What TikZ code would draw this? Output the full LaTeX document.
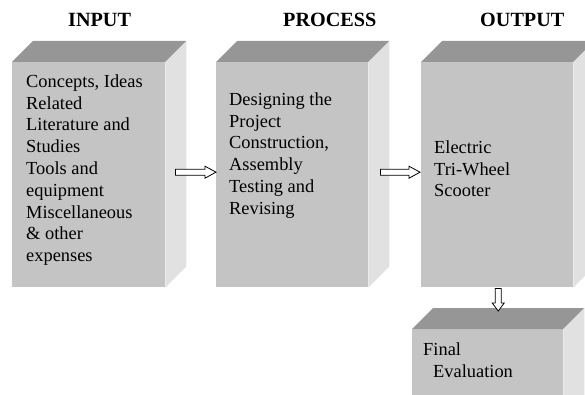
\documentclass[tikz,border=0pt]{standalone}
\usepackage{fontspec}
\setmainfont{Liberation Serif}
\usetikzlibrary{calc}
\definecolor{frontc}{RGB}{196,196,196}
\definecolor{topc}{RGB}{150,150,150}
\definecolor{sidec}{RGB}{225,225,225}
\newcommand\cuboid[1]{%
  \fill[topc] (#1.north west) -- ++(21,-21) -- ($(#1.north east)+(21,-21)$) -- (#1.north east) -- cycle;
  \fill[sidec] (#1.north east) -- ++(21,-21) -- ($(#1.south east)+(21,-21)$) -- (#1.south east) -- cycle;
}
\tikzset{
  front/.style={fill=frontc, draw=none, inner sep=0pt, anchor=north west},
  txt/.style={align=left, inner sep=0pt, anchor=north west, font=\fontsize{18.4}{21.8}\selectfont},
  head/.style={inner sep=0pt, anchor=base west, font=\fontsize{20.2}{24}\selectfont\bfseries},
  blockarrow/.style={draw=black, fill=white, line width=0.8pt, line join=miter}
}
\begin{document}
\begin{tikzpicture}[x=1pt,y=-1pt]
\useasboundingbox (0,0) rectangle (585,395);
\clip (0,0) rectangle (585,395);
% headers
\node[head] (hin) at (68,27) {INPUT};
\node[head] (hproc) at (283,27) {PROCESS};
\node[head] (hout) at (480,27) {OUTPUT};
% boxes
\node[front, minimum width=153pt, minimum height=225pt] (in) at (12,62) {};
\cuboid{in}
\node[front, minimum width=152pt, minimum height=225pt] (proc) at (216,62) {};
\cuboid{proc}
\node[front, minimum width=152pt, minimum height=225pt] (out) at (421,62) {};
\cuboid{out}
\node[front, minimum width=151pt, minimum height=90pt] (eval) at (412,329) {};
\cuboid{eval}
% texts
\node[txt] (intext) at (26,74.4) {Concepts, Ideas\\Related\\Literature and\\Studies\\Tools and\\equipment\\Miscellaneous\\\& other\\expenses};
\node[txt] (proctext) at (229,92.4) {Designing the\\Project\\Construction,\\Assembly\\Testing and\\Revising};
\node[txt] (outtext) at (434,140.4) {Electric\\Tri-Wheel\\Scooter};
\node[txt] (evaltext) at (423,342.4) {Final\\\hspace*{10pt}Evaluation};
% arrows
\draw[blockarrow] let \p1=($(in.east)+(10,-2.5)$), \p2=($(proc.west)+(0,-2.5)$) in
  (\x1,{\y1+3pt}) -- ({\x2-11pt},{\y1+3pt}) -- ({\x2-11pt},{\y1+6pt}) -- (\x2,\y1)
  -- ({\x2-11pt},{\y1-6pt}) -- ({\x2-11pt},{\y1-3pt}) -- (\x1,{\y1-3pt}) -- cycle;
\draw[blockarrow] let \p1=($(proc.east)+(12,-2.5)$), \p2=($(out.west)+(-1,-2.5)$) in
  (\x1,{\y1+3pt}) -- ({\x2-11pt},{\y1+3pt}) -- ({\x2-11pt},{\y1+6pt}) -- (\x2,\y1)
  -- ({\x2-11pt},{\y1-6pt}) -- ({\x2-11pt},{\y1-3pt}) -- (\x1,{\y1-3pt}) -- cycle;
\draw[blockarrow] let \p1=($(out.south)+(1,1)$), \p2=($(eval.north)+(10.5,-18)$) in
  ({\x1-3pt},\y1) -- ({\x1-3pt},{\y2+8pt}) -- ({\x1-6pt},{\y2+8pt}) -- (\x1,\y2)
  -- ({\x1+6pt},{\y2+8pt}) -- ({\x1+3pt},{\y2+8pt}) -- ({\x1+3pt},\y1) -- cycle;
\end{tikzpicture}
\end{document}
